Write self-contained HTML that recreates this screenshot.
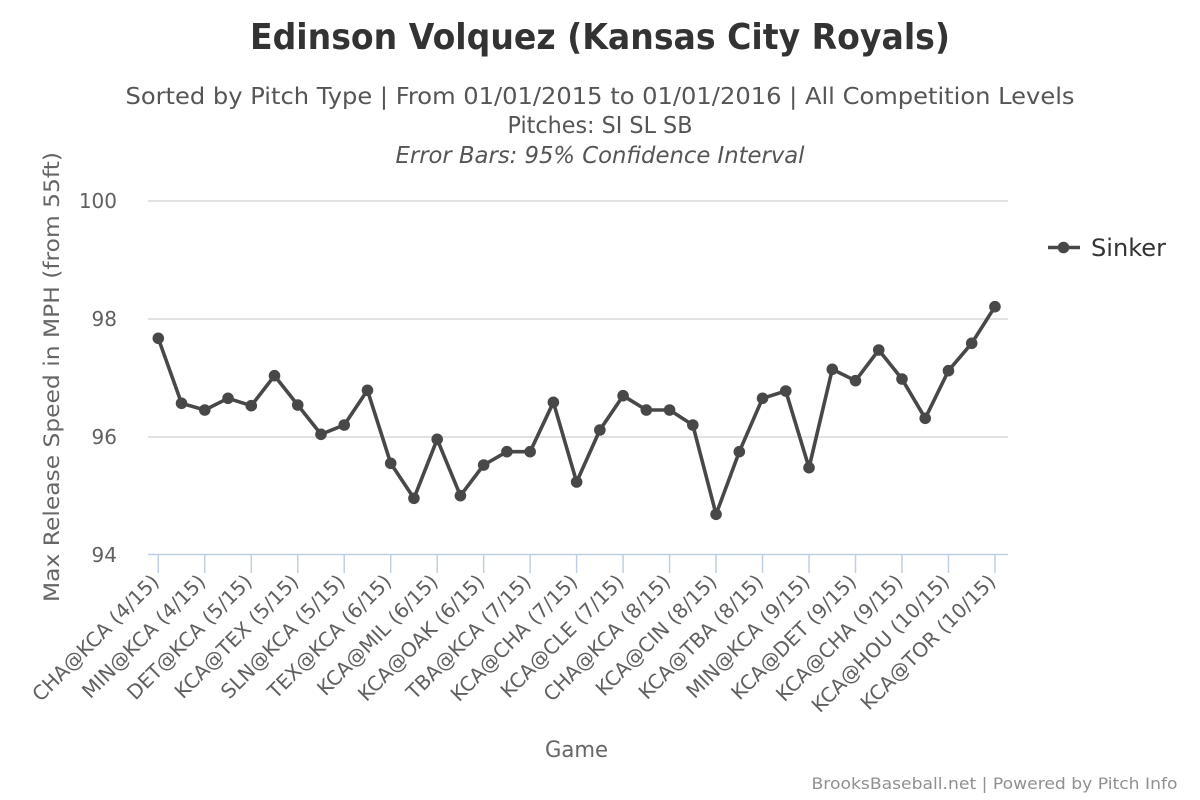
<!DOCTYPE html>
<html><head><meta charset="utf-8"><style>
html,body{margin:0;padding:0;background:#fff;}
svg{display:block;font-family:"DejaVu Sans","Liberation Sans",sans-serif;}
</style></head><body>
<svg width="1200" height="800" viewBox="0 0 1200 800" xmlns="http://www.w3.org/2000/svg">
<rect width="1200" height="800" fill="#fff"/>
<text x="600" y="49" text-anchor="middle" font-size="36" font-weight="bold" fill="#333" textLength="700" lengthAdjust="spacingAndGlyphs">Edinson Volquez (Kansas City Royals)</text>
<text x="600" y="104" text-anchor="middle" font-size="23" fill="#555" textLength="949" lengthAdjust="spacingAndGlyphs">Sorted by Pitch Type | From 01/01/2015 to 01/01/2016 | All Competition Levels</text>
<text x="600" y="133" text-anchor="middle" font-size="23" fill="#555" textLength="185" lengthAdjust="spacingAndGlyphs">Pitches: SI SL SB</text>
<text x="600" y="163" text-anchor="middle" font-size="23" font-style="italic" fill="#555" textLength="409" lengthAdjust="spacingAndGlyphs">Error Bars: 95% Confidence Interval</text>

<g stroke="#d8d8d8" stroke-width="1.5">
<line x1="148" y1="201" x2="1008" y2="201"/>
<line x1="148" y1="319" x2="1008" y2="319"/>
<line x1="148" y1="437" x2="1008" y2="437"/>
</g>
<g stroke="#c0d0e0" stroke-width="1.5">
<line x1="148" y1="554.5" x2="1008" y2="554.5"/>
<line x1="158.3" y1="555" x2="158.3" y2="573"/>
<line x1="204.78" y1="555" x2="204.78" y2="573"/>
<line x1="251.26" y1="555" x2="251.26" y2="573"/>
<line x1="297.74" y1="555" x2="297.74" y2="573"/>
<line x1="344.22" y1="555" x2="344.22" y2="573"/>
<line x1="390.7" y1="555" x2="390.7" y2="573"/>
<line x1="437.18" y1="555" x2="437.18" y2="573"/>
<line x1="483.66" y1="555" x2="483.66" y2="573"/>
<line x1="530.14" y1="555" x2="530.14" y2="573"/>
<line x1="576.62" y1="555" x2="576.62" y2="573"/>
<line x1="623.1" y1="555" x2="623.1" y2="573"/>
<line x1="669.58" y1="555" x2="669.58" y2="573"/>
<line x1="716.06" y1="555" x2="716.06" y2="573"/>
<line x1="762.54" y1="555" x2="762.54" y2="573"/>
<line x1="809.02" y1="555" x2="809.02" y2="573"/>
<line x1="855.5" y1="555" x2="855.5" y2="573"/>
<line x1="901.98" y1="555" x2="901.98" y2="573"/>
<line x1="948.46" y1="555" x2="948.46" y2="573"/>
<line x1="994.94" y1="555" x2="994.94" y2="573"/>
</g>

<g font-size="20" fill="#606060" text-anchor="end">
<text x="117" y="208">100</text>
<text x="117" y="326">98</text>
<text x="117" y="444">96</text>
<text x="117" y="562">94</text>
</g>
<text transform="translate(59,377) rotate(-90)" text-anchor="middle" font-size="21" fill="#666" textLength="450" lengthAdjust="spacingAndGlyphs">Max Release Speed in MPH (from 55ft)</text>
<text x="576.5" y="757" text-anchor="middle" font-size="22" fill="#666" textLength="63" lengthAdjust="spacingAndGlyphs">Game</text>

<g font-size="20" fill="#606060" text-anchor="end">
<text transform="translate(160.3,583) rotate(-45)">CHA@KCA (4/15)</text>
<text transform="translate(206.78,583) rotate(-45)">MIN@KCA (4/15)</text>
<text transform="translate(253.26,583) rotate(-45)">DET@KCA (5/15)</text>
<text transform="translate(299.74,583) rotate(-45)">KCA@TEX (5/15)</text>
<text transform="translate(346.22,583) rotate(-45)">SLN@KCA (5/15)</text>
<text transform="translate(392.7,583) rotate(-45)">TEX@KCA (6/15)</text>
<text transform="translate(439.18,583) rotate(-45)">KCA@MIL (6/15)</text>
<text transform="translate(485.66,583) rotate(-45)">KCA@OAK (6/15)</text>
<text transform="translate(532.14,583) rotate(-45)">TBA@KCA (7/15)</text>
<text transform="translate(578.62,583) rotate(-45)">KCA@CHA (7/15)</text>
<text transform="translate(625.1,583) rotate(-45)">KCA@CLE (7/15)</text>
<text transform="translate(671.58,583) rotate(-45)">CHA@KCA (8/15)</text>
<text transform="translate(718.06,583) rotate(-45)">KCA@CIN (8/15)</text>
<text transform="translate(764.54,583) rotate(-45)">KCA@TBA (8/15)</text>
<text transform="translate(811.02,583) rotate(-45)">MIN@KCA (9/15)</text>
<text transform="translate(857.5,583) rotate(-45)">KCA@DET (9/15)</text>
<text transform="translate(903.98,583) rotate(-45)">KCA@CHA (9/15)</text>
<text transform="translate(950.46,583) rotate(-45)">KCA@HOU (10/15)</text>
<text transform="translate(996.94,583) rotate(-45)">KCA@TOR (10/15)</text>
</g>

<polyline fill="none" stroke="#484848" stroke-width="3.6" stroke-linejoin="round" points="158.3,338.3 181.54,403.3 204.78,410 228.02,398.3 251.26,405.7 274.5,375.7 297.74,405 320.98,434.3 344.22,425 367.46,390.3 390.7,463.3 413.94,498.3 437.18,439.3 460.42,495.7 483.66,465 506.9,451.7 530.14,451.7 553.38,402.3 576.62,482 599.86,430 623.1,395.7 646.34,410 669.58,410 692.82,425 716.06,514.3 739.3,451.7 762.54,398.3 785.78,391 809.02,467.7 832.26,369.3 855.5,380.7 878.74,350 901.98,379 925.22,418.3 948.46,370.7 971.7,343.3 994.94,306.7"/>
<g fill="#484848">
<circle cx="158.3" cy="338.3" r="5.8"/>
<circle cx="181.54" cy="403.3" r="5.8"/>
<circle cx="204.78" cy="410" r="5.8"/>
<circle cx="228.02" cy="398.3" r="5.8"/>
<circle cx="251.26" cy="405.7" r="5.8"/>
<circle cx="274.5" cy="375.7" r="5.8"/>
<circle cx="297.74" cy="405" r="5.8"/>
<circle cx="320.98" cy="434.3" r="5.8"/>
<circle cx="344.22" cy="425" r="5.8"/>
<circle cx="367.46" cy="390.3" r="5.8"/>
<circle cx="390.7" cy="463.3" r="5.8"/>
<circle cx="413.94" cy="498.3" r="5.8"/>
<circle cx="437.18" cy="439.3" r="5.8"/>
<circle cx="460.42" cy="495.7" r="5.8"/>
<circle cx="483.66" cy="465" r="5.8"/>
<circle cx="506.9" cy="451.7" r="5.8"/>
<circle cx="530.14" cy="451.7" r="5.8"/>
<circle cx="553.38" cy="402.3" r="5.8"/>
<circle cx="576.62" cy="482" r="5.8"/>
<circle cx="599.86" cy="430" r="5.8"/>
<circle cx="623.1" cy="395.7" r="5.8"/>
<circle cx="646.34" cy="410" r="5.8"/>
<circle cx="669.58" cy="410" r="5.8"/>
<circle cx="692.82" cy="425" r="5.8"/>
<circle cx="716.06" cy="514.3" r="5.8"/>
<circle cx="739.3" cy="451.7" r="5.8"/>
<circle cx="762.54" cy="398.3" r="5.8"/>
<circle cx="785.78" cy="391" r="5.8"/>
<circle cx="809.02" cy="467.7" r="5.8"/>
<circle cx="832.26" cy="369.3" r="5.8"/>
<circle cx="855.5" cy="380.7" r="5.8"/>
<circle cx="878.74" cy="350" r="5.8"/>
<circle cx="901.98" cy="379" r="5.8"/>
<circle cx="925.22" cy="418.3" r="5.8"/>
<circle cx="948.46" cy="370.7" r="5.8"/>
<circle cx="971.7" cy="343.3" r="5.8"/>
<circle cx="994.94" cy="306.7" r="5.8"/>
</g>

<line x1="1048" y1="247.5" x2="1080" y2="247.5" stroke="#484848" stroke-width="3.6"/>
<circle cx="1063.5" cy="247.5" r="5.8" fill="#484848"/>
<text x="1091" y="256" font-size="24" fill="#333" textLength="75" lengthAdjust="spacingAndGlyphs">Sinker</text>

<text x="811.5" y="789" font-size="16" fill="#909090" textLength="366" lengthAdjust="spacingAndGlyphs">BrooksBaseball.net | Powered by Pitch Info</text>
</svg>
</body></html>
